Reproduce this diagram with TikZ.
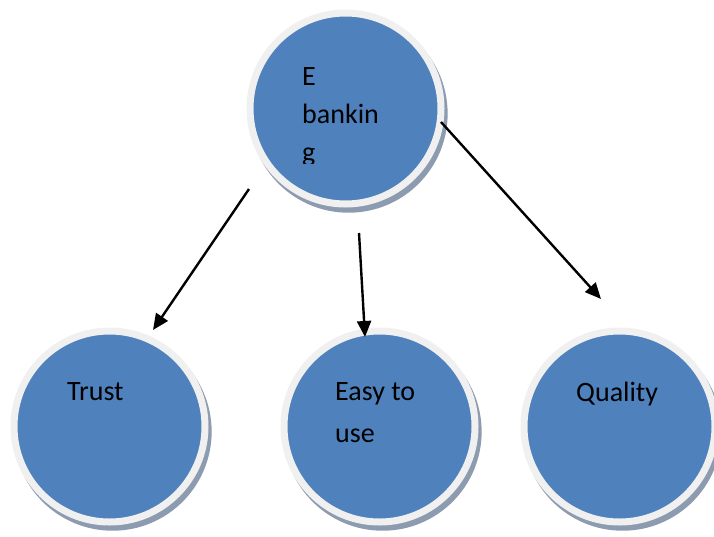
\documentclass[tikz,border=0pt]{standalone}
\usepackage{fontspec}
\setmainfont{Carlito}
\usetikzlibrary{arrows.meta,shadows}
\definecolor{bubblefill}{HTML}{4F81BD}
\definecolor{ringgray}{HTML}{F0F0F0}
\definecolor{shadowgray}{HTML}{8D9BB0}
\tikzset{
  bubble/.style = {circle, fill = bubblefill, draw = ringgray, line width = 7pt,
    minimum size = 191pt, inner sep = 0pt,
    drop shadow = {shadow xshift = 3pt, shadow yshift = -5pt, shadow scale = 1.037,
      fill = shadowgray, opacity = 1}},
  txt/.style = {anchor = base west, inner sep = 0pt, align = left,
    font = \fontsize{28}{40}\selectfont},
  link/.style = {-{Triangle[length = 16pt, width = 14pt]}, line width = 2.4pt}
}
\begin{document}
\begin{tikzpicture}[x = 1pt, y = -1pt]
\useasboundingbox (0, 0) rectangle (714, 536);
\node[bubble] (ebank) at (345.5, 108.5) {};
\node[bubble] (trust) at (109.5, 426.5) {};
\node[bubble] (easy) at (379.5, 426.5) {};
\node[bubble] (quality) at (619.5, 426.5) {};
% labels (base anchor sits on the last line)
\begin{scope}
\clip (0, 0) rectangle (714, 163);
\node[txt] (ebanktext) at (302, 161) {E\\[-2pt]bankin\\[-2pt]g};
\end{scope}
\node[txt] (trusttext) at (67, 400) {Trust};
\node[txt] (easytext) at (335, 442) {Easy to\\[2pt]use};
\node[txt] (qualitytext) at (576, 401) {Quality};
% arrows
\coordinate (trusttail) at (249, 189);
\coordinate (trusthead) at (153, 330);
\coordinate (easytail) at (359, 233);
\coordinate (easyhead) at (365, 337);
\coordinate (qualitytail) at (441, 122);
\coordinate (qualityhead) at (601, 299);
\draw[link] (trusttail) -- (trusthead);
\draw[link] (easytail) -- (easyhead);
\draw[link] (qualitytail) -- (qualityhead);
\end{tikzpicture}
\end{document}
